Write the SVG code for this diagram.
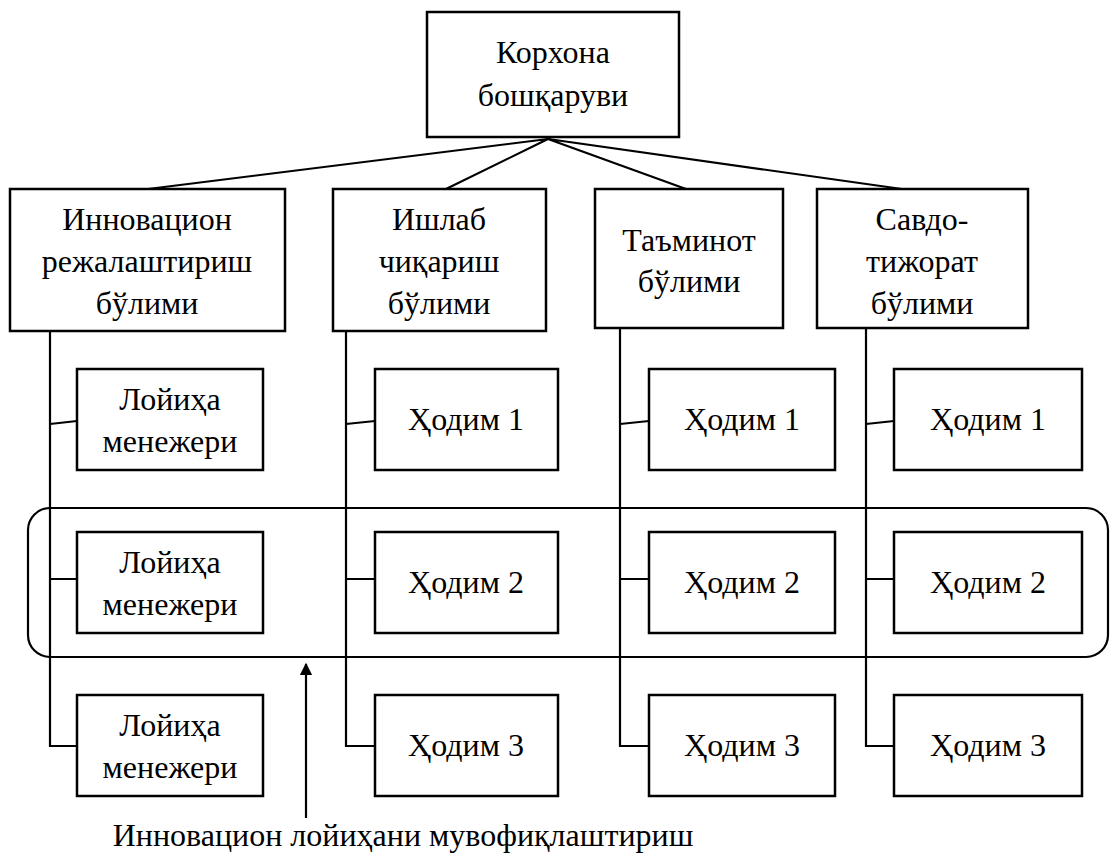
<svg xmlns="http://www.w3.org/2000/svg" width="1110" height="856" viewBox="0 0 1110 856">
<style>
.box{fill:#fff;stroke:#000;stroke-width:2.5}
.ln{fill:none;stroke:#000;stroke-width:2.2}
</style>
<defs>
<marker id="ah" viewBox="0 0 10 10" refX="9" refY="5" markerWidth="6" markerHeight="5.5" orient="auto">
<path d="M0,0 L10,5 L0,10 z" fill="#000"/>
</marker>
</defs>
<g id="connectors">
<path class="ln" d="M548,139 L148,189 M548,139 L446,189 M548,139 L686,189 M548,139 L916,191"/>
<path class="ln" d="M50,331 V746 H77 M50,424 L77,421 M50,579 H77"/>
<path class="ln" d="M346,331 V746 H375 M346,424 L375,421 M346,579 H375"/>
<path class="ln" d="M620,328 V746 H649 M620,424 L649,421 M620,579 H649"/>
<path class="ln" d="M866,328 V746 H894 M866,424 L894,421 M866,579 H894"/>
<rect class="ln" x="28" y="508" width="1080" height="149" rx="22"/>
<line class="ln" x1="306" y1="818" x2="306" y2="664" marker-end="url(#ah)"/>
</g>
<g font-family="Liberation Serif, Times New Roman, serif" font-size="32" text-anchor="middle" fill="#000">
<g id="top"><rect class="box" x="427" y="12" width="252" height="125"/><text x="553" y="63">Корхона</text><text x="553" y="106">бошқаруви</text></g>
<g id="d1"><rect class="box" x="10" y="189" width="275" height="142"/><text x="147" y="230">Инновацион</text><text x="147" y="272">режалаштириш</text><text x="147" y="314">бўлими</text></g>
<g id="d2"><rect class="box" x="333" y="189" width="213" height="142"/><text x="439" y="230">Ишлаб</text><text x="439" y="272">чиқариш</text><text x="439" y="314">бўлими</text></g>
<g id="d3"><rect class="box" x="595" y="189" width="188" height="139"/><text x="689" y="251">Таъминот</text><text x="689" y="292">бўлими</text></g>
<g id="d4"><rect class="box" x="817" y="189" width="211" height="139"/><text x="922" y="230">Савдо-</text><text x="922" y="272">тижорат</text><text x="922" y="314">бўлими</text></g>
<g id="p1"><rect class="box" x="77" y="369" width="186" height="101"/><text x="170" y="410">Лойиҳа</text><text x="170" y="452">менежери</text></g>
<g id="p2"><rect class="box" x="77" y="532" width="186" height="101"/><text x="170" y="573">Лойиҳа</text><text x="170" y="615">менежери</text></g>
<g id="p3"><rect class="box" x="77" y="695" width="186" height="101"/><text x="170" y="736">Лойиҳа</text><text x="170" y="778">менежери</text></g>
<g id="a1"><rect class="box" x="375" y="369" width="183" height="101"/><text x="466" y="430">Ҳодим 1</text></g>
<g id="a2"><rect class="box" x="375" y="532" width="183" height="101"/><text x="466" y="593">Ҳодим 2</text></g>
<g id="a3"><rect class="box" x="375" y="695" width="183" height="101"/><text x="466" y="756">Ҳодим 3</text></g>
<g id="b1"><rect class="box" x="649" y="369" width="186" height="101"/><text x="742" y="430">Ҳодим 1</text></g>
<g id="b2"><rect class="box" x="649" y="532" width="186" height="101"/><text x="742" y="593">Ҳодим 2</text></g>
<g id="b3"><rect class="box" x="649" y="695" width="186" height="101"/><text x="742" y="756">Ҳодим 3</text></g>
<g id="c1"><rect class="box" x="894" y="369" width="188" height="101"/><text x="988" y="430">Ҳодим 1</text></g>
<g id="c2"><rect class="box" x="894" y="532" width="188" height="101"/><text x="988" y="593">Ҳодим 2</text></g>
<g id="c3"><rect class="box" x="894" y="695" width="188" height="101"/><text x="988" y="756">Ҳодим 3</text></g>
<g id="label"><text x="403" y="846">Инновацион лойиҳани мувофиқлаштириш</text></g>
</g>
</svg>
